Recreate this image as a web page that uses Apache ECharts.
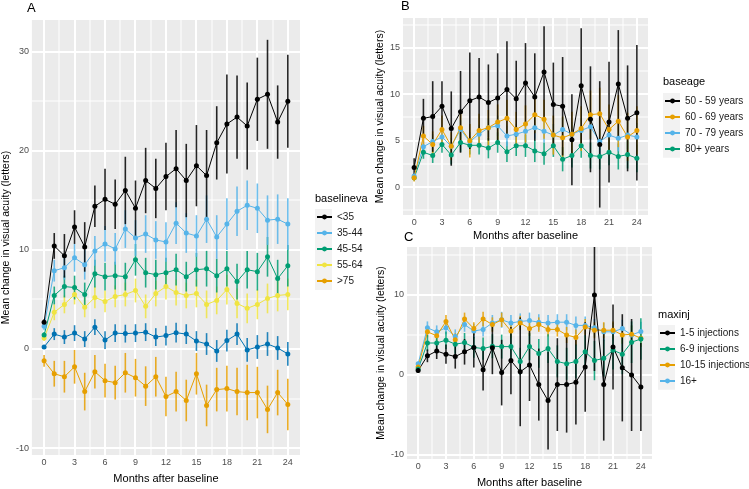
<!DOCTYPE html>
<html><head><meta charset="utf-8">
<script src="https://cdn.jsdelivr.net/npm/echarts@6/dist/echarts.min.js"></script>
<style>html,body{margin:0;padding:0;background:#fff}#c{width:749px;height:489px}</style>
</head><body><div id="c"></div>
<script>
// ---------- data ----------
const months = [0,1,2,3,4,5,6,7,8,9,10,11,12,13,14,15,16,17,18,19,20,21,22,23,24];
const xTicks = [0,3,6,9,12,15,18,21,24];
const xMinor = [1.5,4.5,7.5,10.5,13.5,16.5,19.5,22.5];
const yTicksA = [-10,0,10,20,30];
const yMinorA = [-5,5,15,25];
const yTicksB = [0,5,10,15];
const yMinorB = [-2.5,2.5,7.5,12.5,17.5];
const yTicksC = [-10,0,10];
const yMinorC = [-5,5,15];

// Panel A: baselineva
const A_names = ['<35','35-44','45-54','55-64','65-74','>75'];
const A_legend = ['<35','35-44','45-54','55-64','>75'];
const A_lt35 = [2.7,10.4,9.4,12.3,10.3,14.4,15.1,14.6,16.0,14.2,17.0,16.2,17.4,18.2,17.0,18.5,17.5,20.8,22.7,23.4,22.5,25.2,25.7,22.9,25.0];
const A_lt35_err = [0.3,1.3,2.2,1.7,2.5,2.1,3.1,2.5,3.4,2.8,3.3,3.0,3.4,3.9,3.7,4.1,4.6,3.7,5.0,4.2,4.4,4.2,5.5,3.7,4.7];
const A_35_44 = [2.3,7.9,8.2,9.2,8.5,9.9,10.6,10.1,12.1,11.2,11.6,11.0,10.8,12.7,11.7,11.4,13.1,11.3,12.6,13.9,14.5,14.2,13.0,13.1,12.6];
const A_35_44_err = [0.4,1.1,1.2,1.4,1.5,1.5,1.8,1.6,1.9,1.8,1.9,1.9,2.0,2.1,2.0,2.1,2.4,2.2,2.6,2.5,2.5,2.5,2.5,2.5,2.6];
const A_45_54 = [1.4,5.4,6.3,6.2,5.5,7.6,7.3,7.4,7.3,9.0,7.7,7.5,7.7,8.0,7.3,8.0,8.1,7.4,8.1,6.8,8.0,7.8,9.3,7.1,8.4];
const A_45_54_err = [0.3,0.9,1.1,1.2,1.2,1.4,1.4,1.4,1.4,1.6,1.5,1.5,1.5,1.6,1.5,1.7,1.8,1.7,1.8,1.8,1.9,1.9,2.0,1.9,2.1];
const A_55_64 = [1.1,3.7,4.5,5.5,4.2,5.2,4.8,5.3,5.5,5.9,4.3,5.6,6.3,5.7,5.4,5.6,4.5,4.9,6.0,4.6,4.1,4.5,5.1,5.4,5.5];
const A_55_64_err = [0.3,0.8,0.9,1.0,1.0,1.1,1.1,1.1,1.2,1.2,1.2,1.3,1.3,1.3,1.3,1.4,1.4,1.4,1.5,1.5,1.5,1.5,1.5,1.6,1.6];
const A_65_74 = [0.2,1.5,1.2,1.6,1.0,2.2,0.9,1.6,1.55,1.6,1.7,1.2,1.35,1.65,1.5,0.8,0.5,-0.2,0.85,1.5,-0.1,0.2,0.5,0.1,-0.5];
const A_65_74_err = [0.2,0.6,0.7,0.8,0.8,0.8,0.9,0.9,0.9,0.9,0.9,0.9,1.0,1.0,1.0,1.0,1.1,1.1,1.1,1.1,1.2,1.2,1.2,1.2,1.2];
const A_gt75 = [-1.2,-2.5,-2.8,-1.8,-4.3,-2.3,-3.2,-3.4,-2.4,-2.9,-3.75,-2.8,-4.8,-4.3,-5.2,-2.5,-5.7,-4.1,-4.0,-4.3,-4.4,-4.4,-6.1,-4.4,-5.6];
const A_gt75_err = [0.6,1.3,1.6,1.7,1.9,1.7,1.7,1.7,2.0,1.9,2.0,2.0,2.0,2.0,2.1,2.1,2.1,2.2,2.3,2.4,2.8,2.6,2.4,2.3,2.6];

// Panel B: baseage
const B_names = ['50 - 59 years','60 - 69 years','70 - 79 years','80+ years'];
const B_50_59 = [2.1,7.4,7.6,8.7,6.3,8.1,9.3,9.7,9.1,9.6,10.5,9.5,11.2,9.7,12.4,8.9,8.7,5.1,10.9,7.3,4.6,7.0,11.1,7.4,8.0];
const B_50_59_err = [1.0,2.1,3.8,2.7,4.0,4.4,5.2,4.2,4.1,4.8,5.2,4.1,4.3,4.7,4.9,4.5,5.3,4.9,6.2,5.7,6.8,6.5,5.8,5.7,7.3];
const B_60_69 = [1.0,5.5,4.6,6.2,4.4,6.4,5.0,6.1,6.4,7.0,7.4,6.2,6.8,7.8,7.3,5.6,5.3,5.7,6.3,7.8,7.9,6.2,7.1,5.4,6.1];
const B_60_69_err = [0.4,1.1,1.4,1.5,1.5,1.7,1.8,1.8,1.9,1.9,2.0,1.9,2.0,2.0,2.1,2.1,2.3,2.4,2.4,2.6,2.8,2.7,2.8,2.6,2.6];
const B_70_79 = [1.2,4.35,4.9,5.4,4.4,6.2,4.9,5.7,6.4,6.6,5.5,5.7,6.0,6.4,6.0,5.6,6.2,5.7,6.1,6.5,4.9,5.6,5.25,5.6,5.4];
const B_70_79_err = [0.3,0.7,0.8,0.9,0.9,1.0,1.0,1.0,1.0,1.1,1.1,1.1,1.1,1.2,1.2,1.2,1.3,1.3,1.3,1.4,1.4,1.4,1.4,1.5,1.5];
const B_80 = [1.0,3.75,3.4,4.6,3.45,4.8,4.5,4.5,4.2,4.8,3.8,4.45,4.45,3.9,3.6,4.45,3.0,3.4,4.45,3.4,3.3,3.75,3.3,3.5,3.1];
const B_80_err = [0.3,0.7,0.8,0.9,1.0,1.0,1.0,1.0,1.1,1.1,1.1,1.1,1.2,1.2,1.2,1.2,1.3,1.3,1.3,1.4,1.4,1.4,1.4,1.5,1.5];

// Panel C: maxinj
const C_names = ['1-5 injections','6-9 injections','10-15 injections','16+'];
const C_1_5 = [0.55,2.4,3.0,2.6,2.3,2.9,3.45,0.65,3.4,0.3,1.8,0.4,1.25,-1.2,-3.2,-1.2,-1.2,-0.9,1.0,10.0,-1.2,3.5,0.9,0.0,-1.5];
const C_1_5_err = [0.3,0.8,1.0,1.2,1.5,1.6,2.5,2.6,3.3,4.1,4.2,6.8,4.5,4.5,6.1,5.8,6.0,5.3,5.6,9.5,7.0,5.3,6.7,7.0,5.5];
const C_6_9 = [0.75,4.0,4.0,4.35,3.85,4.05,3.45,3.3,3.6,3.55,3.55,1.7,3.55,2.7,3.3,1.7,1.4,1.7,2.9,1.8,2.1,3.1,2.6,4.1,4.5];
const C_6_9_err = [0.4,1.0,1.0,1.1,1.2,1.2,1.3,1.4,1.5,1.5,1.6,1.7,1.7,1.8,1.8,2.0,2.0,2.1,2.1,2.45,2.3,2.4,2.5,2.6,2.6];
const C_10_15 = [1.0,5.4,4.9,6.7,4.4,7.0,5.8,7.0,6.3,6.9,5.5,6.5,5.8,6.3,5.7,5.7,5.0,4.7,6.0,5.6,5.6,5.6,5.0,5.1,4.6];
const C_10_15_err = [0.3,0.7,0.7,0.8,0.8,0.8,0.8,0.9,0.9,0.9,0.9,0.9,0.9,0.9,0.9,0.9,1.0,1.0,1.0,1.0,1.0,1.1,1.1,1.1,1.1];
const C_16 = [1.4,5.9,5.4,5.9,4.8,6.3,5.5,5.7,6.5,6.9,6.5,6.7,6.8,6.6,6.5,6.6,6.6,6.2,6.2,5.9,5.4,5.4,5.8,5.0,5.45];
const C_16_err = [0.3,0.8,0.8,0.8,0.9,0.9,0.9,0.9,1.0,1.0,1.0,1.0,1.0,1.0,1.0,1.0,1.0,1.1,1.1,1.1,1.1,1.1,1.1,1.2,1.2];

// ---------- styling ----------
const FONT = '"Liberation Sans", Arial, sans-serif';
const COL = {black:'#000000', lblue:'#56B4E9', green:'#009E73', yellow:'#F0E442', dblue:'#0072B2', orange:'#E69F00'};
const GRIDCOL = '#FFFFFF';

const series = [];
// panel background + white grid lines, one custom series per panel
function panel(idx, xMaj, xMin, yMaj, yMin) {
  series.push({
    type: 'custom', xAxisIndex: idx, yAxisIndex: idx, z: 1, silent: true, clip: false,
    data: [[xMaj[0], yMaj[0]]],
    renderItem: function (params, api) {
      const cs = params.coordSys;
      const kids = [{type:'rect', z2: 0, shape:{x:cs.x, y:cs.y, width:cs.width, height:cs.height}, style:{fill:'#EBEBEB'}}];
      const vline = (v, w) => {
        const px = Math.round(api.coord([v, yMaj[0]])[0]);
        kids.push({type:'rect', z2: 5, shape:{x:px - w / 2, y:cs.y, width:w, height:cs.height}, style:{fill:GRIDCOL}});
      };
      const hline = (v, w) => {
        const py = Math.round(api.coord([xMaj[0], v])[1]);
        kids.push({type:'rect', z2: 5, shape:{x:cs.x, y:py - w / 2, width:cs.width, height:w}, style:{fill:GRIDCOL}});
      };
      xMin.forEach(v => vline(v, 1));
      yMin.forEach(v => hline(v, 1));
      xMaj.forEach(v => vline(v, 2));
      yMaj.forEach(v => hline(v, 2));
      return {type:'group', children: kids};
    }
  });
}
function addGroup(idx, name, vals, err, color) {
  const ebData = months.map((m, i) => [m, vals[i] - err[i], vals[i] + err[i]]);
  series.push({
    type: 'custom', name: name + ' err', xAxisIndex: idx, yAxisIndex: idx, z: 2, silent: true, clip: true,
    data: ebData,
    renderItem: function (params, api) {
      const p1 = api.coord([api.value(0), api.value(1)]);
      const p2 = api.coord([api.value(0), api.value(2)]);
      return {type:'line', shape:{x1:p1[0], y1:p1[1], x2:p2[0], y2:p2[1]}, style:{stroke: color, lineWidth: 1.6, opacity: 0.85}};
    }
  });
  series.push({
    type: 'line', name: name, xAxisIndex: idx, yAxisIndex: idx, z: 3,
    data: months.map((m, i) => [m, vals[i]]),
    symbol: 'circle', symbolSize: 5, showSymbol: true,
    lineStyle: {color: color, width: 1},
    itemStyle: {color: color},
    emphasis: {disabled: true}, animation: false
  });
}

panel(0, xTicks, xMinor, yTicksA, yMinorA);
panel(1, xTicks, xMinor, yTicksB, yMinorB);
panel(2, xTicks, xMinor, yTicksC, yMinorC);

addGroup(0, A_names[5], A_gt75, A_gt75_err, COL.orange);
addGroup(0, A_names[4], A_65_74, A_65_74_err, COL.dblue);
addGroup(0, A_names[3], A_55_64, A_55_64_err, COL.yellow);
addGroup(0, A_names[2], A_45_54, A_45_54_err, COL.green);
addGroup(0, A_names[1], A_35_44, A_35_44_err, COL.lblue);
addGroup(0, A_names[0], A_lt35, A_lt35_err, COL.black);

addGroup(1, B_names[3], B_80, B_80_err, COL.green);
addGroup(1, B_names[2], B_70_79, B_70_79_err, COL.lblue);
addGroup(1, B_names[1], B_60_69, B_60_69_err, COL.orange);
addGroup(1, B_names[0], B_50_59, B_50_59_err, COL.black);

addGroup(2, C_names[3], C_16, C_16_err, COL.lblue);
addGroup(2, C_names[2], C_10_15, C_10_15_err, COL.orange);
addGroup(2, C_names[1], C_6_9, C_6_9_err, COL.green);
addGroup(2, C_names[0], C_1_5, C_1_5_err, COL.black);

function xAx(idx, gap) {
  return {
    type: 'value', gridIndex: idx, min: -1.2, max: 25.2,
    name: 'Months after baseline', nameLocation: 'middle', nameGap: gap,
    nameTextStyle: {fontFamily: FONT, fontSize: 11, color: '#000'},
    axisLine: {show: false}, splitLine: {show: false},
    axisTick: {show: true, length: 3, lineStyle: {color: '#333', width: 1}, customValues: xTicks},
    axisLabel: {color: '#4D4D4D', fontFamily: FONT, fontSize: 9, margin: 3, customValues: xTicks}
  };
}
function yAx(idx, min, max, ticks, gap) {
  return {
    type: 'value', gridIndex: idx, min: min, max: max,
    name: 'Mean change in visual acuity (letters)', nameLocation: 'middle', nameGap: gap, nameRotate: 90,
    nameTextStyle: {fontFamily: FONT, fontSize: 10.5, color: '#000'},
    axisLine: {show: false}, splitLine: {show: false},
    axisTick: {show: true, length: 3, lineStyle: {color: '#333', width: 1}, customValues: ticks},
    axisLabel: {color: '#4D4D4D', fontFamily: FONT, fontSize: 9, margin: 3, customValues: ticks}
  };
}
function legendAt(names, left, top) {
  return {
    data: names, orient: 'vertical', left: left, top: top, padding: 0,
    itemWidth: 15, itemHeight: 6, itemGap: 4, itemTextGap: 5, selectedMode: false,
    textStyle: {fontFamily: FONT, fontSize: 10, color: '#1A1A1A', lineHeight: 12}
  };
}
function txt(x, y, s, size) {
  return {type: 'text', left: x, top: y, style: {text: s, font: size + 'px ' + FONT, fill: '#000'}};
}
function keyBg(x, y, n) {
  return {type: 'rect', left: x, top: y, shape: {width: 17, height: 16.2 * n}, style: {fill: '#F2F2F2'}, z: -1};
}

const option = {
  animation: false,
  grid: [
    {left: 30, top: 20, width: 270, height: 444, show: false},
    {left: 403, top: 18, width: 245, height: 197, show: false},
    {left: 407, top: 247, width: 245, height: 217, show: false}
  ],
  xAxis: [xAx(0, 18), xAx(1, 15), xAx(2, 18)],
  yAxis: [yAx(0, -10.7, 33.2, yTicksA, 16), yAx(1, -3.0, 18.2, yTicksB, 12), yAx(2, -10.5, 16.0, yTicksC, 16)],
  legend: [
    legendAt(A_legend, 316, 211),
    legendAt(B_names, 664, 95),
    legendAt(C_names, 659, 327)
  ],
  graphic: [
    keyBg(315, 209, 5), keyBg(663, 93, 4), keyBg(658, 325, 4),
    txt(27, 2, 'A', 13), txt(401, 0, 'B', 13), txt(404, 231, 'C', 13),
    txt(315, 193, 'baselineva', 11), txt(663, 76, 'baseage', 11), txt(658, 309, 'maxinj', 11)
  ],
  series: series
};
echarts.init(document.getElementById('c'), null, {renderer: 'canvas'}).setOption(option);
</script></body></html>
